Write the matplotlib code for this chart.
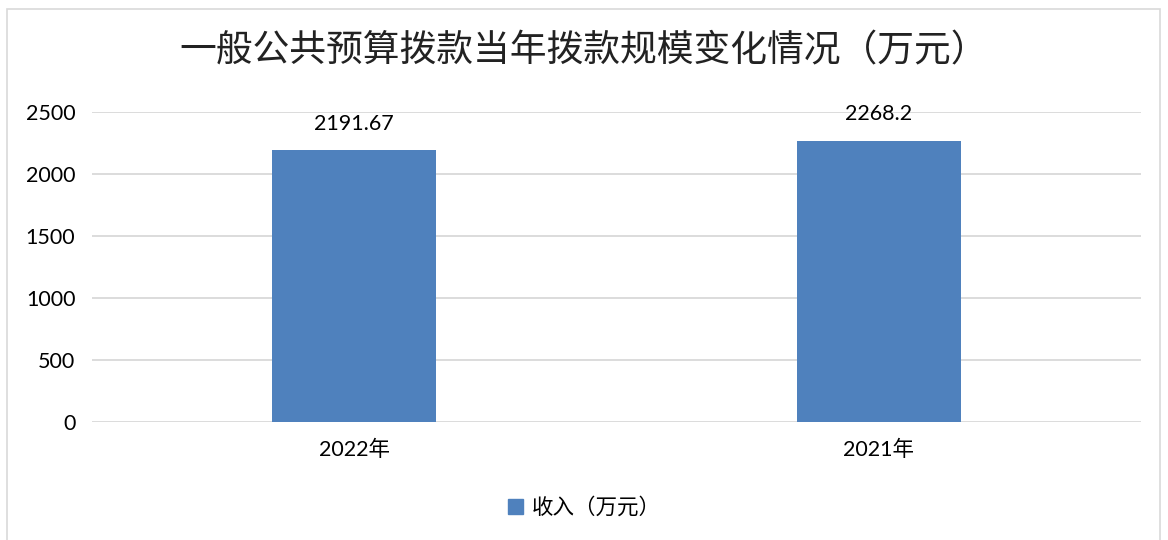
import matplotlib
matplotlib.use("Agg")
import matplotlib.pyplot as plt
from matplotlib.patches import Patch, Rectangle


# ==========================================================
# DATA
# ==========================================================

categories = ["2022年", "2021年"]
values = [2191.67, 2268.2]
value_labels = ["2191.67", "2268.2"]
y_ticks = [0, 500, 1000, 1500, 2000, 2500]

TITLE = "一般公共预算拨款当年拨款规模变化情况（万元）"
SERIES_NAME = "收入（万元）"

BAR_COLOR = "#4F81BD"
GRID_COLOR = "#D9D9D9"
NUM_FONT = ["Lato", "Noto Sans CJK SC", "DejaVu Sans"]
CJK_FONT = ["Noto Sans CJK SC", "DejaVu Sans"]

plt.rcParams["font.family"] = NUM_FONT


# ==========================================================
# FIGURE
# ==========================================================

W, H = 1168, 540
fig = plt.figure(figsize=(W / 100, H / 100), dpi=100)
fig.patch.set_facecolor("white")

# outer chart frame (cropped at the bottom)
fig.add_artist(Rectangle(
    (7 / W, -0.05), (1160 - 7) / W, (H - 9) / H + 0.05,
    transform=fig.transFigure, fill=False,
    edgecolor="#D9D9D9", linewidth=1.2
))

ax = fig.add_axes([92 / W, (H - 422) / H, (1141 - 92) / W, (422 - 112) / H])

x = list(range(len(categories)))
bars = ax.bar(x, values, width=0.313, color=BAR_COLOR, zorder=3)

ax.set_xlim(-0.5, len(categories) - 0.5)
ax.set_ylim(0, 2500)
ax.set_yticks(y_ticks)
ax.set_yticklabels([str(v) for v in y_ticks], fontsize=15.5, color="#000000")
ax.set_xticks(x)
ax.set_xticklabels(categories, fontsize=15.5, color="#000000")
ax.tick_params(axis="both", length=0)
ax.tick_params(axis="y", pad=12)
ax.tick_params(axis="x", pad=13)

ax.yaxis.grid(True, color=GRID_COLOR, linewidth=1.3, zorder=0)
ax.set_axisbelow(True)
for s in ax.spines.values():
    s.set_visible(False)

# data labels
for xi, v, lab in zip(x, values, value_labels):
    ax.annotate(lab, (xi, v), xytext=(0, 12), textcoords="offset points",
                ha="center", va="bottom", fontsize=15.5, color="#000000")

# title
fig.text(0.5, (H - 51) / H, TITLE, ha="center", va="center",
         fontsize=26.5, family=CJK_FONT, fontweight="light", color="#222222")

# legend
fig.legend(handles=[Patch(facecolor=BAR_COLOR, edgecolor=BAR_COLOR)],
           labels=[SERIES_NAME], loc="center",
           bbox_to_anchor=(0.5, (H - 508) / H), frameon=False,
           prop={"family": CJK_FONT, "size": 15.5},
           handlelength=0.7, handleheight=0.7, handletextpad=0.4)

fig.savefig("out.png", dpi=100, facecolor="white")
